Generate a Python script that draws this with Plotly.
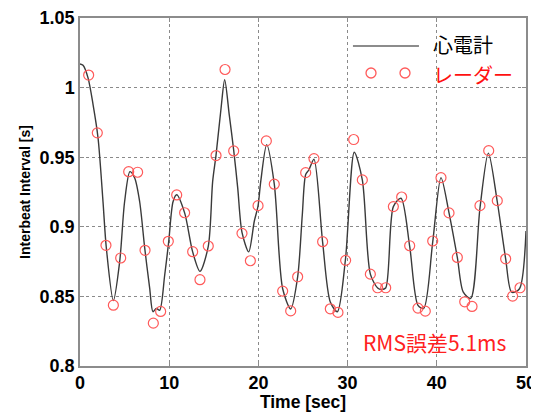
import plotly.graph_objects as go

# ECG (心電計) interbeat interval curve
ecg_t = [0, 0.34, 0.9, 1.46, 2.02, 2.58, 2.95, 3.74, 4.45, 5.0, 5.6, 6.13, 6.69, 7.25,
         7.81, 8.18, 8.56, 8.93, 9.49, 9.94, 10.43, 10.84, 11.73, 12.63, 13.45, 14.38,
         14.87, 15.25, 15.81, 16.22, 16.74, 17.23, 17.68, 18.16, 18.91, 19.54, 19.96,
         20.26, 20.93, 21.78, 22.72, 23.62, 24.4, 24.92, 25.3, 25.67, 26.23, 27.2, 28.06,
         28.85, 29.75, 30.75, 31.65, 32.55, 33.37, 33.8, 34.27, 35.13, 35.99, 36.96,
         37.89, 38.53, 39.54, 40.47, 41.37, 42.3, 42.97, 43.8, 44.84, 45.78, 46.78,
         47.72, 48.39, 49.25, 50.0]
ecg_v = [1.017, 1.016, 1.007, 0.988, 0.964, 0.918, 0.885, 0.847, 0.875, 0.918, 0.9396,
         0.935, 0.918, 0.885, 0.856, 0.839, 0.8414, 0.840, 0.865, 0.889, 0.918, 0.923,
         0.910, 0.882, 0.868, 0.886, 0.9325, 0.9515, 0.985, 1.0056, 0.980, 0.955, 0.928,
         0.896, 0.882, 0.904, 0.915, 0.9325, 0.959, 0.9306, 0.8555, 0.841, 0.864, 0.9085,
         0.9375, 0.941, 0.9485, 0.889, 0.846, 0.839, 0.876, 0.9536, 0.9337, 0.866, 0.856,
         0.855, 0.856, 0.9145, 0.9205, 0.886, 0.8436, 0.8414, 0.889, 0.9353, 0.910, 0.878,
         0.853, 0.8486, 0.9135, 0.9529, 0.918, 0.877, 0.853, 0.8553, 0.897]

# radar (レーダー) beats
radar_t = [0.97, 1.94, 2.91, 3.74, 4.56, 5.46, 6.46, 7.29, 8.22, 9.04, 9.9, 10.84, 11.73,
           12.63, 13.45, 14.38, 15.25, 16.26, 17.23, 18.16, 19.1, 19.96, 20.89, 21.78,
           22.72, 23.62, 24.4, 25.3, 26.23, 27.2, 28.06, 28.92, 29.78, 30.68, 31.65,
           32.55, 33.37, 34.27, 35.13, 36.06, 36.96, 37.89, 38.71, 39.54, 40.47, 41.37,
           42.3, 43.13, 43.95, 44.84, 45.82, 46.78, 47.72, 48.5, 49.33]
radar_v = [1.009, 0.9675, 0.8867, 0.8437, 0.8776, 0.9396, 0.9392, 0.8831, 0.8308, 0.8392,
           0.8896, 0.9229, 0.9101, 0.8821, 0.862, 0.8862, 0.9512, 1.013, 0.9545, 0.8953,
           0.8756, 0.9152, 0.9617, 0.9306, 0.8538, 0.8396, 0.8641, 0.9389, 0.949, 0.8893,
           0.8411, 0.8385, 0.8759, 0.9627, 0.9337, 0.866, 0.8562, 0.8562, 0.9145, 0.9214,
           0.8864, 0.8416, 0.8394, 0.8898, 0.9353, 0.91, 0.878, 0.8461, 0.8428, 0.9152,
           0.9547, 0.9188, 0.877, 0.8502, 0.8562]

x_ticks = [0, 10, 20, 30, 40, 50]
y_ticks = [0.8, 0.85, 0.9, 0.95, 1.0, 1.05]
y_tick_text = ['0.8', '0.85', '0.9', '0.95', '1', '1.05']

RED = '#ff5a5a'
jp_font = 'Noto Sans CJK JP'
num_font = 'Liberation Sans'

fig = go.Figure()
fig.add_trace(go.Scatter(
    x=ecg_t, y=ecg_v, mode='lines', name='心電計',
    line=dict(color='#3a3a3a', width=1.4, shape='spline', smoothing=0.8),
))
fig.add_trace(go.Scatter(
    x=radar_t, y=radar_v, mode='markers', name='レーダー',
    marker=dict(symbol='circle-open', size=10, color=RED, line=dict(width=1.2, color=RED)),
))

axis_common = dict(
    showgrid=True, gridcolor='#8a8a8a', griddash='dot', gridwidth=1,
    showline=True, linecolor='#8c8c8c', linewidth=1.5, mirror='ticks',
    ticks='inside', ticklen=4, tickcolor='#8c8c8c', zeroline=False, automargin=False,
    tickfont=dict(family=num_font, size=18, color='black', weight='bold'),
)
fig.update_xaxes(range=[0, 50], tickvals=x_ticks, **axis_common,
                 title=dict(text='Time [sec]', standoff=0,
                            font=dict(family=num_font, size=17.5, color='black', weight='bold')))
fig.update_yaxes(range=[0.8, 1.05], tickvals=y_ticks, ticktext=y_tick_text, **axis_common,
                 title=dict(text='Interbeat Interval [s]', standoff=6,
                            font=dict(family=num_font, size=14, color='black', weight='bold')))

# legend drawn MATLAB style: long line sample, two circles
fig.add_shape(type='line', xref='paper', yref='paper', x0=0.612, x1=0.760, y0=0.9195, y1=0.9195,
              line=dict(color='#8c8c8c', width=2))
for cx in (0.6525, 0.7287):
    fig.add_shape(type='circle', xref='paper', yref='paper', xsizemode='pixel', ysizemode='pixel',
                  xanchor=cx, yanchor=0.842, x0=-5, x1=5, y0=-5, y1=5,
                  line=dict(color=RED, width=1.3))
fig.add_annotation(x=0.787, y=0.924, xref='paper', yref='paper', xanchor='left', yanchor='middle',
                   text='心電計', showarrow=False, font=dict(family=jp_font, size=20, color='black'))
fig.add_annotation(x=0.787, y=0.837, xref='paper', yref='paper', xanchor='left', yanchor='middle',
                   text='レーダー', showarrow=False, font=dict(family=jp_font, size=20, color='#ff1010'))
fig.add_annotation(x=0.795, y=0.069, xref='paper', yref='paper', xanchor='center', yanchor='middle',
                   text='RMS誤差5.1ms', showarrow=False, font=dict(family=jp_font, size=21, color='#ff2020'))

# the page body adds an 8px margin at top/left, so the figure is 8px smaller
fig.update_layout(
    width=531, height=404,
    margin=dict(l=72, r=13, t=10, b=46, autoexpand=False),
    paper_bgcolor='white', plot_bgcolor='white',
    showlegend=False,
)

fig.write_html('out.html')
